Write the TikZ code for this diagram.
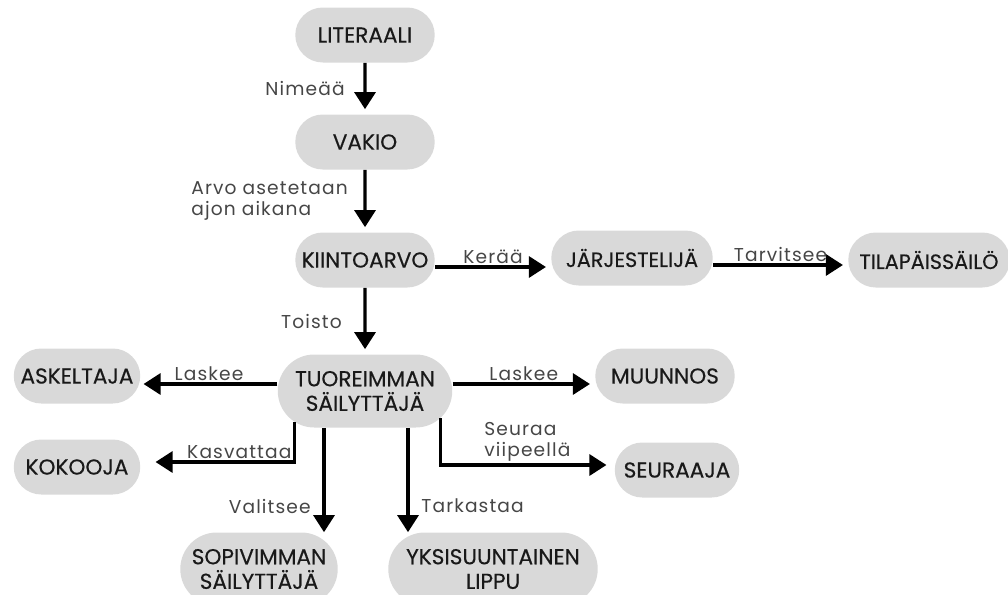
\documentclass[tikz,border=0pt]{standalone}
\usepackage{fontspec}
\setmainfont{Poppins}
\newfontfamily\lblfont[LetterSpace=6]{Poppins}
\newfontfamily\pillfont[FakeBold=0.35]{Poppins}
\usepackage{tikz}
\usetikzlibrary{positioning, arrows.meta, shapes.misc}
\usepackage{xcolor}
\definecolor{pillgray}{RGB}{217, 217, 217}
\definecolor{lblgray}{RGB}{70, 70, 70}
\definecolor{txtdark}{RGB}{25, 25, 25}

\tikzset{
  pill/.style={rounded rectangle, fill=pillgray, text=txtdark, minimum height=1.1cm,
    inner xsep=3pt, align=center, font=\pillfont\fontsize{12.3}{14}\selectfont},
  pilltwo/.style={pill, minimum height=1.46cm},
  link/.style={-{Triangle[width=0.42cm, length=0.34cm]}, line width=1.8pt, shorten >=0.1cm},
  lbl/.style={font=\lblfont\fontsize{10.6}{12.2}\selectfont, text=lblgray, inner sep=1pt}
}

\begin{document}
\begin{tikzpicture}
  \clip (0, 0) rectangle (20.16, 11.88);

  % Main column
  \node[pill, minimum width=3cm] (lit) at (7.30, 11.18) {LITERAALI};
  \node[pill, minimum width=3cm] (vakio) at (7.30, 9.04) {VAKIO};
  \node[pill, minimum width=3cm] (kiinto) at (7.30, 6.68) {KIINTOARVO};
  \node[pilltwo, minimum width=3.7cm] (tuor) at (7.30, 4.06) {TUOREIMMAN\\SÄILYTTÄJÄ};

  % Right branch
  \node[pill, minimum width=3.44cm, font=\pillfont\fontsize{11.8}{13.5}\selectfont] (jarj) at (12.64, 6.72) {JÄRJESTELIJÄ};
  \node[pill, minimum width=3.44cm, font=\pillfont\fontsize{11.8}{13.5}\selectfont] (tila) at (18.58, 6.68) {TILAPÄISSÄILÖ};

  % Around the last-value holder
  \node[pill, minimum width=2.74cm] (askel) at (1.54, 4.36) {ASKELTAJA};
  \node[pill, minimum width=3cm] (muun) at (13.30, 4.36) {MUUNNOS};
  \node[pill, minimum width=2.74cm] (kokoo) at (1.54, 2.54) {KOKOOJA};
  \node[pill, minimum width=2.7cm] (seur) at (13.54, 2.48) {SEURAAJA};
  \node[pilltwo, minimum width=3.36cm] (sopiv) at (5.18, 0.50) {SOPIVIMMAN\\SÄILYTTÄJÄ};
  \node[pilltwo, minimum width=4.4cm] (yksi) at (9.86, 0.50) {YKSISUUNTAINEN\\LIPPU};

  % Vertical links
  \draw[link] (lit) -- node[lbl, midway, left=0.34cm] (lnim) {Nimeää} (vakio);
  \draw[link] (vakio) -- node[lbl, midway, left=0.28cm, align=left] (larvo) {Arvo asetetaan\\ajon aikana} (kiinto);
  \draw[link] (kiinto) -- node[lbl, midway, left=0.4cm] (ltoisto) {Toisto} (tuor);

  % Horizontal links
  \draw[link] ([yshift=-0.14cm]kiinto.east) -- node[lbl, above] (lkeraa) {Kerää}
    ([yshift=-0.14cm]kiinto.east -| jarj.west);
  \draw[link] ([yshift=-0.14cm]jarj.east) -- node[lbl, above] (ltarv) {Tarvitsee}
    ([yshift=-0.14cm]jarj.east -| tila.west);
  \draw[link] ([yshift=0.14cm]tuor.east) -- node[lbl, above] (llasr) {Laskee}
    ([yshift=0.14cm]tuor.east -| muun.west);
  \draw[link, shorten >=0.06cm] ([yshift=0.14cm]tuor.west) -- node[lbl, above] (llasl) {Laskee}
    ([yshift=0.14cm]tuor.west -| askel.east);

  % Elbow links
  \draw[link, shorten >=0.3cm] (tuor.204) |- node[lbl, pos=0.5, above left] (lkasv) {Kasvattaa}
    ([yshift=0.1cm]kokoo.east);
  \draw[link, shorten >=0.16cm] (tuor.340) |- node[lbl, pos=0.75, above, align=left] (lseur) {Seuraa\\viipeellä}
    ([yshift=0.1cm]seur.west);

  % Down to the bottom row
  \draw[link, shorten >=0cm] ([xshift=-0.82cm]tuor.south) -- node[lbl, pos=0.75, left=0.2cm] (lvali) {Valitsee}
    ([xshift=-0.82cm]tuor.south |- sopiv.north);
  \draw[link, shorten >=0cm] ([xshift=0.86cm]tuor.south) -- node[lbl, pos=0.75, right=0.2cm] (ltark) {Tarkastaa}
    ([xshift=0.86cm]tuor.south |- yksi.north);
\end{tikzpicture}
\end{document}
